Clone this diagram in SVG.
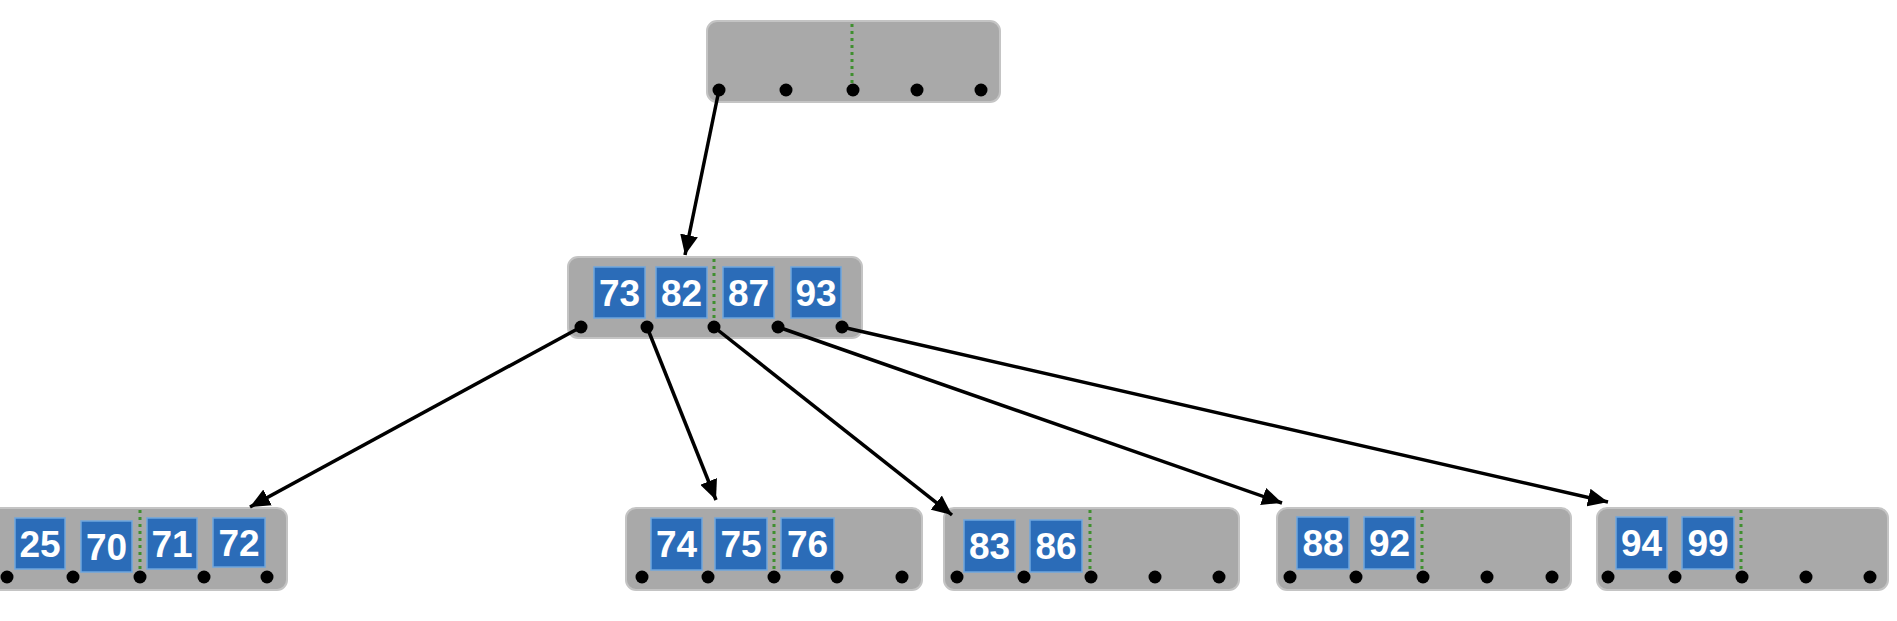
<svg xmlns="http://www.w3.org/2000/svg" width="1897" height="621" viewBox="0 0 1897 621">
<style>
.node{fill:#a9a9a9;stroke:#c4c4c4;stroke-width:2}
.key{fill:#2b6cb8;stroke:#6fa6de;stroke-width:1.5}
.kt{fill:#ffffff;font-family:"Liberation Sans",Arial,sans-serif;font-size:37px;font-weight:bold;text-anchor:middle}
.dot{fill:#000000}
.sep{stroke:#3f8f2f;stroke-width:3;stroke-dasharray:3 4}
.edge{stroke:#000000;stroke-width:3.5;fill:none;marker-end:url(#ah)}
</style>
<defs>
<marker id="ah" markerUnits="userSpaceOnUse" markerWidth="22" markerHeight="18" refX="20" refY="9" orient="auto">
<path d="M0,0 L20,9 L0,18 Z" fill="#000"/>
</marker>
</defs>
<rect width="1897" height="621" fill="#ffffff"/>

<g id="root">
<rect class="node" x="707" y="21" width="293" height="81" rx="10"/>
<line class="sep" x1="852" y1="24" x2="852" y2="84"/>
<circle class="dot" cx="719" cy="90" r="6.5"/>
<circle class="dot" cx="786" cy="90" r="6.5"/>
<circle class="dot" cx="853" cy="90" r="6.5"/>
<circle class="dot" cx="917" cy="90" r="6.5"/>
<circle class="dot" cx="981" cy="90" r="6.5"/>
</g>

<g id="mid">
<rect class="node" x="568" y="257" width="294" height="81" rx="10"/>
<rect class="key" x="594" y="267" width="51" height="51"/><text class="kt" x="619.5" y="306">73</text>
<rect class="key" x="656" y="267" width="51" height="51"/><text class="kt" x="681.5" y="306">82</text>
<line class="sep" x1="714" y1="259" x2="714" y2="320"/>
<rect class="key" x="723" y="267" width="51" height="51"/><text class="kt" x="748.5" y="306">87</text>
<rect class="key" x="791" y="267" width="50" height="51"/><text class="kt" x="816" y="306">93</text>
<circle class="dot" cx="581" cy="327" r="6.5"/>
<circle class="dot" cx="647" cy="327" r="6.5"/>
<circle class="dot" cx="714" cy="327" r="6.5"/>
<circle class="dot" cx="778" cy="327" r="6.5"/>
<circle class="dot" cx="842" cy="327" r="6.5"/>
</g>

<g id="leaf1">
<rect class="node" x="-10" y="508" width="297" height="82" rx="10"/>
<rect class="key" x="15" y="518" width="50" height="51"/><text class="kt" x="40" y="557">25</text>
<rect class="key" x="81" y="521" width="51" height="51"/><text class="kt" x="106.5" y="560">70</text>
<line class="sep" x1="140" y1="510" x2="140" y2="570"/>
<rect class="key" x="147" y="518" width="50" height="51"/><text class="kt" x="172" y="557">71</text>
<rect class="key" x="213" y="518" width="52" height="49"/><text class="kt" x="239" y="556">72</text>
<circle class="dot" cx="7" cy="577" r="6.5"/>
<circle class="dot" cx="73" cy="577" r="6.5"/>
<circle class="dot" cx="140" cy="577" r="6.5"/>
<circle class="dot" cx="204" cy="577" r="6.5"/>
<circle class="dot" cx="267" cy="577" r="6.5"/>
</g>

<g id="leaf2">
<rect class="node" x="626" y="508" width="296" height="82" rx="10"/>
<rect class="key" x="651" y="518" width="51" height="52"/><text class="kt" x="676.5" y="557">74</text>
<rect class="key" x="715" y="518" width="52" height="52"/><text class="kt" x="741" y="557">75</text>
<line class="sep" x1="774" y1="510" x2="774" y2="570"/>
<rect class="key" x="781" y="518" width="53" height="52"/><text class="kt" x="807.5" y="557">76</text>
<circle class="dot" cx="642" cy="577" r="6.5"/>
<circle class="dot" cx="708" cy="577" r="6.5"/>
<circle class="dot" cx="774" cy="577" r="6.5"/>
<circle class="dot" cx="837" cy="577" r="6.5"/>
<circle class="dot" cx="902" cy="577" r="6.5"/>
</g>

<g id="leaf3">
<rect class="node" x="944" y="508" width="295" height="82" rx="10"/>
<rect class="key" x="964" y="520" width="51" height="52"/><text class="kt" x="989.5" y="559">83</text>
<rect class="key" x="1030" y="520" width="52" height="52"/><text class="kt" x="1056" y="559">86</text>
<line class="sep" x1="1090" y1="510" x2="1090" y2="570"/>
<circle class="dot" cx="957" cy="577" r="6.5"/>
<circle class="dot" cx="1024" cy="577" r="6.5"/>
<circle class="dot" cx="1091" cy="577" r="6.5"/>
<circle class="dot" cx="1155" cy="577" r="6.5"/>
<circle class="dot" cx="1219" cy="577" r="6.5"/>
</g>

<g id="leaf4">
<rect class="node" x="1277" y="508" width="294" height="82" rx="10"/>
<rect class="key" x="1297" y="517" width="52" height="52"/><text class="kt" x="1323" y="556">88</text>
<rect class="key" x="1364" y="517" width="51" height="52"/><text class="kt" x="1389.5" y="556">92</text>
<line class="sep" x1="1422" y1="510" x2="1422" y2="570"/>
<circle class="dot" cx="1290" cy="577" r="6.5"/>
<circle class="dot" cx="1356" cy="577" r="6.5"/>
<circle class="dot" cx="1423" cy="577" r="6.5"/>
<circle class="dot" cx="1487" cy="577" r="6.5"/>
<circle class="dot" cx="1552" cy="577" r="6.5"/>
</g>

<g id="leaf5">
<rect class="node" x="1597" y="508" width="291" height="82" rx="10"/>
<rect class="key" x="1616" y="517" width="51" height="52"/><text class="kt" x="1641.5" y="556">94</text>
<rect class="key" x="1682" y="517" width="52" height="52"/><text class="kt" x="1708" y="556">99</text>
<line class="sep" x1="1741" y1="510" x2="1741" y2="570"/>
<circle class="dot" cx="1608" cy="577" r="6.5"/>
<circle class="dot" cx="1675" cy="577" r="6.5"/>
<circle class="dot" cx="1742" cy="577" r="6.5"/>
<circle class="dot" cx="1806" cy="577" r="6.5"/>
<circle class="dot" cx="1870" cy="577" r="6.5"/>
</g>

<g id="connectors">
<line class="edge" x1="719" y1="90" x2="685" y2="255"/>
<line class="edge" x1="581" y1="327" x2="250" y2="507"/>
<line class="edge" x1="647" y1="327" x2="716" y2="500"/>
<line class="edge" x1="714" y1="327" x2="952" y2="515"/>
<line class="edge" x1="778" y1="327" x2="1282" y2="503"/>
<line class="edge" x1="842" y1="327" x2="1608" y2="502"/>
</g>
</svg>
